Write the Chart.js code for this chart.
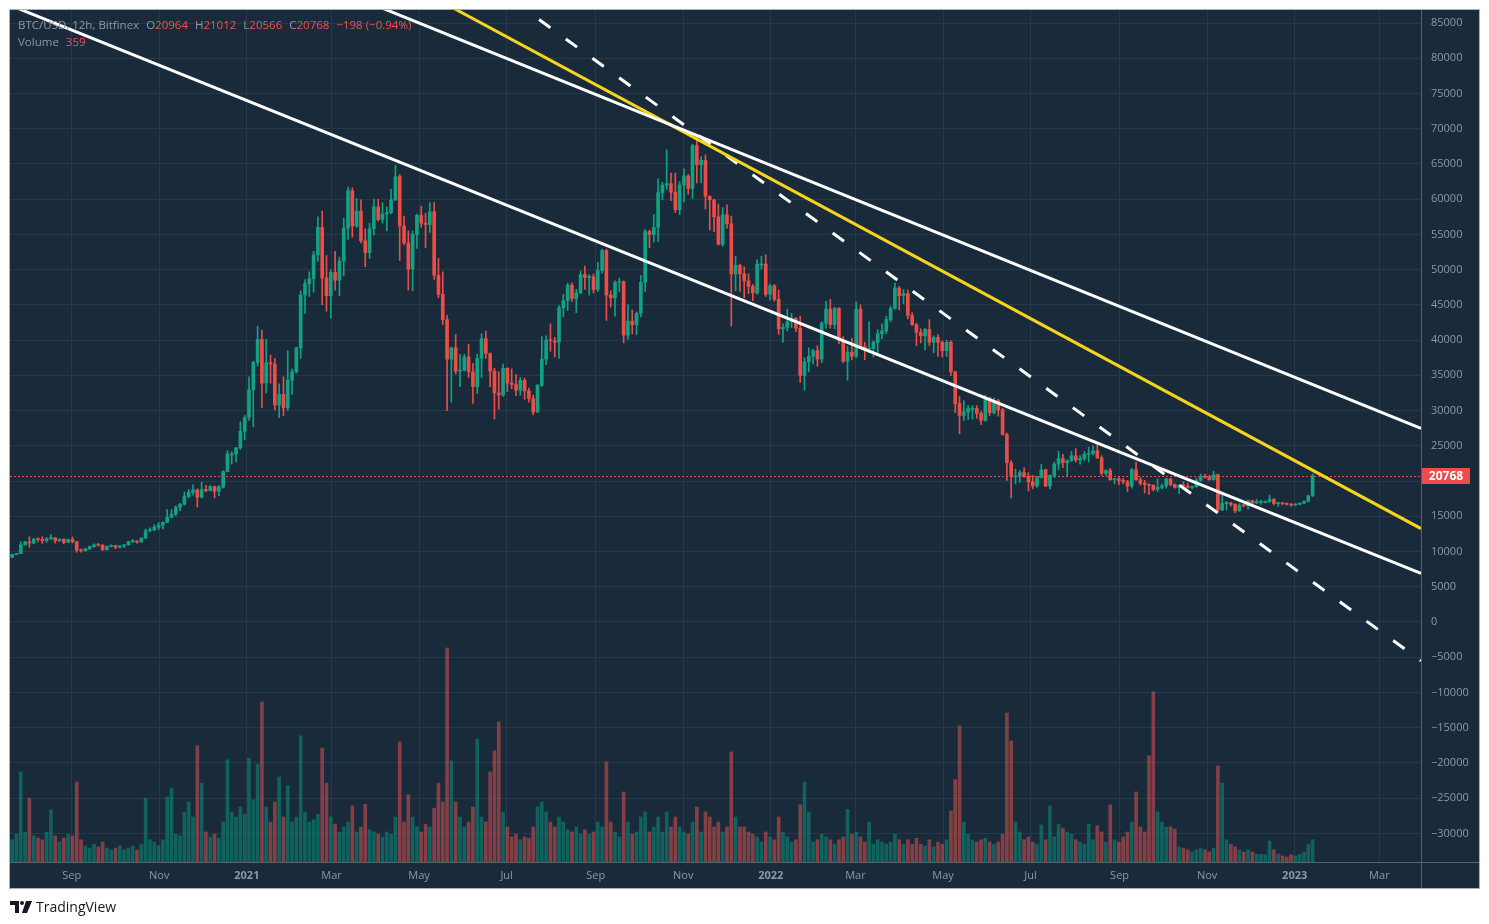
<!DOCTYPE html>
<html>
<head>
<meta charset="utf-8">
<title>BTC/USD 12h Bitfinex</title>
<script src="https://cdn.jsdelivr.net/npm/chart.js@4.4.1/dist/chart.umd.min.js"></script>
<style>
  html, body { margin: 0; padding: 0; background: #ffffff; }
  #wrap { position: relative; width: 1489px; height: 924px; overflow: hidden; }
  #btcChart { position: absolute; left: 0; top: 0; }
  .legend { position: absolute; left: 18px; font: 11.5px "Open Sans", sans-serif; color: #8d98a5; white-space: nowrap; line-height: 16px; }
  .legend .v { color: #ef5350; }
  .legend .gap { margin-left: 7px; }
  #logo { position: absolute; left: 10px; top: 897px; font: 14px "Open Sans", sans-serif; color: #131722; display: flex; align-items: center; }
  #logo svg { margin-right: 4px; }
</style>
</head>
<body>
<div id="wrap">
  <canvas id="btcChart" width="1489" height="924"></canvas>
  <div class="legend" id="legend1" style="top:17px"></div>
  <div class="legend" id="legend2" style="top:34px"></div>
  <div id="logo">
    <svg width="22" height="12" viewBox="0 0 22 12"><path d="M0 0h9v12H5V4H0z" fill="#131722"/><circle cx="12" cy="2" r="2" fill="#131722"/><path d="M16 0h6l-5 12h-5z" fill="#131722"/></svg>
    <span>TradingView</span>
  </div>
</div>
<script>
// Bougies de 3 jours à partir du 20/07/2020, prix en milliers de USD
const startDate = '2020-07-20';
const stepDays = 3;

const openK = [
  9.2, 9.6, 9.7, 10.95, 11.35, 11.2, 11.75, 11.7, 11.55, 11.85,
  11.95, 11.55, 11.75, 11.3, 11.7, 11.4, 10.2, 10.1, 10.4, 10.7,
  10.95, 10.9, 10.25, 10.7, 10.85, 10.6, 10.8, 10.95, 11.4, 11.45,
  11.35, 11.9, 12.95, 13.05, 13.45, 13.75, 14.15, 14.85, 15.3, 16.3,
  16.7, 17.8, 18.4, 18.75, 17.7, 18.8, 18.65, 19.2, 18.55, 19.15,
  21.35, 23.85, 23.85, 24.7, 27.05, 29.0, 32.95, 36.8, 40.1, 33.9,
  36.8, 36.6, 30.8, 32.3, 30.4, 34.3, 35.5, 38.9, 46.4, 48.0,
  48.7, 52.1, 56.0, 48.8, 46.3, 49.6, 48.5, 51.2, 55.9, 61.2,
  56.2, 58.3, 54.1, 52.4, 55.8, 58.9, 57.1, 57.9, 58.1, 59.9,
  63.2, 56.2, 53.8, 50.1, 55.0, 57.7, 56.6, 56.4, 58.2, 49.2,
  46.5, 42.9, 37.3, 38.9, 35.6, 35.7, 37.6, 35.5, 33.4, 37.4,
  40.2, 38.1, 35.6, 32.5, 32.2, 36.0, 33.9, 33.7, 32.9, 34.3,
  32.8, 31.7, 29.8, 33.6, 37.3, 40.0, 39.9, 39.7, 44.6, 45.6,
  47.8, 45.9, 46.7, 49.3, 48.9, 49.0, 47.2, 49.9, 52.7, 46.4,
  46.0, 48.2, 48.3, 40.7, 42.7, 42.2, 43.8, 48.2, 55.4, 55.0,
  56.0, 60.9, 62.0, 62.2, 61.0, 58.5, 62.0, 63.3, 61.5, 67.6,
  64.9, 65.5, 60.4, 59.9, 57.5, 53.6, 57.8, 56.5, 49.4, 50.6,
  49.4, 48.4, 47.6, 46.7, 50.8, 50.8, 46.5, 47.7, 45.8, 41.6,
  41.8, 42.6, 43.1, 41.7, 35.0, 36.9, 37.7, 38.5, 37.3, 42.4,
  44.4, 42.2, 44.5, 40.0, 37.0, 38.3, 37.7, 44.4, 39.1, 38.7,
  38.8, 39.7, 40.9, 41.3, 42.9, 44.5, 47.4, 46.3, 46.6, 43.5,
  42.2, 41.1, 40.6, 41.5, 39.7, 40.4, 39.7, 38.5, 39.7, 35.5,
  31.0, 29.3, 29.8, 30.3, 30.3, 29.6, 28.6, 31.8, 29.7, 31.4,
  30.1, 26.6, 22.6, 20.6, 20.7, 21.2, 20.7, 19.9, 19.3, 20.5,
  21.6, 19.3, 20.8, 22.4, 23.2, 22.6, 22.9, 23.6, 23.0, 23.2,
  23.8, 23.9, 24.3, 23.3, 21.1, 21.5, 20.2, 20.3, 20.1, 19.9,
  19.3, 21.6, 20.2, 19.7, 19.5, 19.4, 18.8, 19.1, 19.3, 20.3,
  19.5, 19.1, 19.4, 19.3, 19.1, 19.2, 20.1, 20.6, 20.5, 20.2,
  20.9, 15.9, 16.8, 16.9, 16.7, 15.8, 16.6, 16.5, 17.2, 16.9,
  17.1, 17.1, 17.1, 17.4, 16.8, 16.9, 16.8, 16.7, 16.6, 16.7,
  16.85, 17.1, 17.9
];
const highK = [
  9.65, 9.75, 11.4, 11.45, 12.1, 11.9, 11.95, 12.1, 11.95, 12.45,
  12.0, 11.8, 11.8, 11.75, 12.05, 11.45, 10.4, 10.45, 10.8, 11.1,
  11.15, 11.0, 10.8, 10.95, 10.9, 10.85, 11.0, 11.45, 11.7, 11.55,
  12.0, 13.2, 13.35, 13.8, 14.1, 14.2, 15.95, 15.95, 16.5, 16.85,
  18.45, 18.8, 19.45, 18.9, 19.85, 19.4, 19.4, 19.3, 19.4, 21.5,
  24.3, 24.15, 24.8, 28.4, 29.3, 34.8, 37.0, 42.0, 41.4, 40.1,
  37.9, 37.4, 33.8, 34.8, 38.5, 35.9, 39.0, 47.0, 48.6, 49.7,
  52.6, 57.5, 58.3, 52.0, 50.0, 52.6, 51.8, 57.3, 61.7, 61.6,
  60.1, 59.9, 55.8, 56.6, 60.0, 60.0, 59.5, 58.9, 61.4, 64.8,
  63.5, 57.6, 55.5, 55.5, 57.9, 59.0, 58.0, 59.5, 59.5, 51.6,
  49.7, 43.5, 39.0, 40.8, 38.0, 38.0, 39.4, 36.7, 38.0, 40.9,
  41.3, 38.2, 36.0, 35.5, 36.6, 36.1, 35.9, 35.1, 34.7, 34.6,
  33.2, 32.2, 33.7, 40.5, 40.6, 42.3, 40.4, 44.9, 46.5, 48.1,
  48.1, 47.2, 49.8, 50.5, 49.3, 49.4, 51.0, 52.9, 52.9, 47.0,
  48.4, 48.8, 48.4, 45.0, 44.3, 44.0, 49.2, 55.7, 55.6, 57.8,
  62.9, 62.4, 67.0, 63.7, 63.7, 62.5, 64.3, 63.5, 67.8, 69.0,
  66.0, 66.3, 60.5, 60.0, 59.3, 58.8, 59.2, 57.6, 51.9, 50.8,
  50.4, 49.4, 47.9, 51.4, 51.9, 52.1, 48.0, 47.9, 47.1, 42.3,
  44.4, 43.8, 43.2, 43.4, 37.5, 38.9, 38.7, 39.2, 42.6, 45.5,
  45.8, 44.7, 44.6, 40.5, 39.1, 40.3, 45.4, 45.0, 39.7, 42.6,
  39.9, 41.5, 42.3, 43.4, 44.8, 48.1, 47.6, 47.2, 47.1, 43.9,
  42.4, 41.6, 41.7, 42.9, 40.6, 40.8, 39.9, 40.0, 39.9, 35.6,
  32.0, 31.4, 30.7, 30.7, 30.7, 29.9, 32.2, 31.9, 31.8, 31.6,
  30.3, 26.8, 22.9, 21.7, 21.5, 21.9, 21.2, 20.8, 20.7, 22.4,
  21.7, 20.9, 22.7, 24.2, 23.8, 23.0, 24.2, 24.6, 23.6, 24.2,
  24.8, 25.0, 25.2, 23.6, 21.6, 21.8, 20.4, 20.6, 20.4, 20.1,
  21.8, 22.7, 20.5, 20.1, 19.6, 19.5, 20.3, 19.6, 20.4, 20.4,
  19.6, 19.5, 19.9, 19.7, 19.3, 20.4, 21.0, 21.0, 20.8, 21.4,
  21.0, 18.1, 17.1, 17.0, 16.8, 16.8, 16.7, 17.3, 17.3, 17.4,
  17.3, 17.2, 18.0, 17.5, 17.0, 16.95, 16.9, 16.8, 16.8, 16.95,
  17.2, 18.0, 21.012
];
const lowK = [
  9.1, 9.5, 9.7, 10.9, 10.6, 11.1, 11.35, 11.15, 11.3, 11.7,
  11.2, 11.4, 11.1, 11.25, 11.2, 9.9, 9.9, 10.05, 10.25, 10.6,
  10.75, 10.15, 10.2, 10.65, 10.4, 10.5, 10.55, 10.9, 11.3, 11.2,
  11.3, 11.85, 12.8, 12.95, 13.1, 13.2, 14.1, 14.8, 15.1, 15.8,
  16.6, 17.6, 18.0, 16.3, 17.6, 18.5, 18.6, 17.6, 17.9, 19.0,
  21.3, 22.4, 22.7, 24.5, 25.9, 28.6, 27.7, 36.3, 30.4, 32.5,
  33.9, 30.1, 29.0, 29.3, 30.0, 32.3, 35.3, 37.4, 43.8, 46.2,
  46.8, 51.2, 45.0, 44.1, 43.1, 47.1, 46.3, 49.1, 54.3, 54.6,
  56.0, 53.8, 50.4, 51.6, 54.9, 56.9, 56.6, 55.5, 57.9, 59.8,
  51.3, 53.5, 47.1, 47.0, 53.0, 56.0, 53.1, 55.3, 48.6, 46.0,
  42.2, 30.0, 31.2, 35.2, 33.4, 35.6, 34.7, 31.0, 32.4, 34.7,
  37.4, 33.4, 28.8, 30.2, 32.0, 32.7, 33.1, 32.1, 32.2, 31.6,
  31.2, 29.4, 29.7, 33.4, 36.5, 38.4, 37.6, 37.4, 43.3, 44.2,
  45.5, 43.9, 46.6, 47.2, 46.4, 46.7, 46.9, 49.5, 42.8, 44.7,
  43.4, 46.9, 39.6, 40.1, 40.9, 40.8, 43.3, 46.9, 53.1, 53.9,
  54.0, 59.9, 61.4, 59.8, 58.1, 57.8, 59.6, 60.7, 60.1, 62.3,
  62.3, 58.6, 55.6, 55.4, 53.5, 53.3, 55.9, 42.0, 47.0, 46.9,
  46.0, 46.6, 45.6, 46.5, 50.1, 46.2, 45.7, 45.5, 40.8, 39.7,
  41.3, 41.8, 41.2, 34.0, 32.9, 35.5, 36.6, 36.3, 36.8, 41.7,
  41.7, 41.6, 39.5, 36.8, 34.3, 37.2, 37.5, 38.8, 37.2, 38.3,
  37.6, 38.1, 40.2, 40.9, 42.6, 44.4, 44.3, 45.2, 43.0, 42.1,
  39.2, 39.6, 38.6, 39.2, 38.2, 37.7, 37.6, 37.7, 35.0, 29.7,
  26.7, 28.6, 28.7, 28.8, 28.9, 28.0, 28.5, 29.3, 29.5, 29.2,
  26.5, 20.1, 17.6, 19.6, 19.8, 20.5, 18.6, 18.9, 19.1, 20.4,
  19.2, 18.9, 20.5, 21.6, 21.9, 20.7, 22.8, 22.7, 22.4, 22.9,
  22.7, 23.7, 23.2, 20.8, 20.8, 20.1, 19.6, 19.5, 19.6, 18.5,
  19.0, 20.1, 19.4, 18.3, 18.1, 18.6, 18.5, 18.9, 19.0, 19.3,
  19.0, 18.2, 19.0, 19.0, 18.9, 19.1, 20.0, 20.4, 20.1, 20.1,
  15.6, 15.8, 15.9, 16.4, 15.5, 15.7, 16.3, 16.0, 16.8, 16.8,
  16.7, 16.9, 17.0, 16.6, 16.4, 16.6, 16.6, 16.4, 16.5, 16.6,
  16.8, 17.05, 17.8
];
const closeK = [
  9.6, 9.7, 10.95, 11.35, 11.2, 11.75, 11.7, 11.55, 11.85, 11.95,
  11.55, 11.75, 11.3, 11.7, 11.4, 10.2, 10.1, 10.4, 10.7, 10.95,
  10.9, 10.25, 10.7, 10.85, 10.6, 10.8, 10.95, 11.4, 11.45, 11.35,
  11.9, 12.95, 13.05, 13.45, 13.75, 14.15, 14.85, 15.3, 16.3, 16.7,
  17.8, 18.4, 18.75, 17.7, 18.8, 18.65, 19.2, 18.55, 19.15, 21.35,
  23.85, 23.85, 24.7, 27.05, 29.0, 32.95, 36.8, 40.1, 33.9, 36.8,
  36.6, 30.8, 32.3, 30.4, 34.3, 35.5, 38.9, 46.4, 48.0, 48.7,
  52.1, 56.0, 48.8, 46.3, 49.6, 48.5, 51.2, 55.9, 61.2, 56.2,
  58.3, 54.1, 52.4, 55.8, 58.9, 57.1, 57.9, 58.1, 59.9, 63.2,
  56.2, 53.8, 50.1, 55.0, 57.7, 56.6, 56.4, 58.2, 49.2, 46.5,
  42.9, 37.3, 38.9, 35.6, 35.7, 37.6, 35.5, 33.4, 37.4, 40.2,
  38.1, 35.6, 32.5, 32.2, 36.0, 33.9, 33.7, 32.9, 34.3, 32.8,
  31.7, 29.8, 33.6, 37.3, 40.0, 39.9, 39.7, 44.6, 45.6, 47.8,
  45.9, 46.7, 49.3, 48.9, 49.0, 47.2, 49.9, 52.7, 46.4, 46.0,
  48.2, 48.3, 40.7, 42.7, 42.2, 43.8, 48.2, 55.4, 55.0, 56.0,
  60.9, 62.0, 62.2, 61.0, 58.5, 62.0, 63.3, 61.5, 67.6, 64.9,
  65.5, 60.4, 59.9, 57.5, 53.6, 57.8, 56.5, 49.4, 50.6, 49.4,
  48.4, 47.6, 46.7, 50.8, 50.8, 46.5, 47.7, 45.8, 41.6, 41.8,
  42.6, 43.1, 41.7, 35.0, 36.9, 37.7, 38.5, 37.3, 42.4, 44.4,
  42.2, 44.5, 40.0, 37.0, 38.3, 37.7, 44.4, 39.1, 38.7, 38.8,
  39.7, 40.9, 41.3, 42.9, 44.5, 47.4, 46.3, 46.6, 43.5, 42.2,
  41.1, 40.6, 41.5, 39.7, 40.4, 39.7, 38.5, 39.7, 35.5, 31.0,
  29.3, 29.8, 30.3, 30.3, 29.6, 28.6, 31.8, 29.7, 31.4, 30.1,
  26.6, 22.6, 20.6, 20.7, 21.2, 20.7, 19.9, 19.3, 20.5, 21.6,
  19.3, 20.8, 22.4, 23.2, 22.6, 22.9, 23.6, 23.0, 23.2, 23.8,
  23.9, 24.3, 23.3, 21.1, 21.5, 20.2, 20.3, 20.1, 19.9, 19.3,
  21.6, 20.2, 19.7, 19.5, 19.4, 18.8, 19.1, 19.3, 20.3, 19.5,
  19.1, 19.4, 19.3, 19.1, 19.2, 20.1, 20.6, 20.5, 20.2, 20.9,
  15.9, 16.8, 16.9, 16.7, 15.8, 16.6, 16.5, 17.2, 16.9, 17.1,
  17.1, 17.1, 17.4, 16.8, 16.9, 16.8, 16.7, 16.6, 16.7, 16.85,
  17.1, 17.9, 20.768
];
// Volume (BTC) par bougie
const volumes = [
  400, 500, 1620, 540, 1150, 470, 430, 400, 540, 940, 470, 360, 430, 500, 470,
  1440, 400, 290, 250, 320, 270, 360, 250, 220, 250, 290, 220, 250, 290, 220, 320, 1150, 400, 360, 290,
  400, 1170, 1330, 500, 470, 900, 1080, 810, 2090, 1420, 540, 450, 500, 430, 720,
  1840, 900, 810, 990, 860, 1870, 1120, 1760, 2880, 990, 720, 1080, 1530, 810, 1370, 720, 810, 2270, 900, 720, 760, 860, 2050, 1420, 810,
  680, 540, 630, 720, 1010, 540, 630, 1040, 580, 540, 500, 450, 540, 500, 810, 2160, 720, 1210, 810, 630, 540, 680, 630, 970, 1420,
  1080, 3850, 1820, 1080, 810, 630, 720, 990, 2210, 810, 720, 1620, 2000, 2520,
  900, 630, 450, 500, 400, 450, 430, 630, 990, 1080, 900, 720, 630, 810, 720, 580, 540, 630, 500, 580,
  500, 540, 720, 630, 1800, 720, 540, 450, 1260, 720, 500, 540, 810, 900, 540, 630, 810, 540, 900, 630,
  810, 630, 540, 500, 720, 990, 540, 900, 810, 630, 720, 540, 630, 1980, 810, 630, 630, 540, 500, 450,
  360, 540, 450, 400, 810, 540, 450, 360, 400,
  1030, 1440, 900, 360, 400, 500, 450, 400, 320, 400, 450, 950, 500, 540, 450, 360, 720, 320, 400, 360,
  320, 360, 500, 400, 320, 400, 320, 430, 320, 290, 400, 270, 360, 320, 400, 920, 1480, 2450, 720, 500,
  400, 360, 400, 430, 360, 320, 360, 500,
  2680, 2180, 720, 540, 400, 450, 360, 320, 670, 400, 1010, 450, 680, 610, 540, 500, 400, 360, 320, 680,
  400, 650, 540, 360, 1030, 400, 360, 450, 540, 720, 1260, 630, 540, 1910, 3060, 900, 720, 630, 630, 590,
  270, 250, 220, 180, 220, 250, 220, 180, 250,
  1730, 1420, 400, 320, 270, 220, 180, 220, 180, 140, 140, 130, 380, 220, 140, 110, 90, 130, 110, 140,
  180, 320, 400
];

// Dernière bougie 12h affichée dans la légende
const lastOpen = 20964, lastHigh = 21012, lastLow = 20566, lastClose = 20768;
const lastChange = -198, lastChangePct = -0.94, lastVolume = 359;

// Lignes de tendance tracées à la main : [jour depuis startDate, prix]
const trendLower = [[0, 87530], [983, 6900]];
const trendUpper = [[250, 87880], [983, 27470]];
const trendYellow = [[300, 88090], [983, 13260]];
const trendDashed = [[350, 88250], [983, -5500]];

// Axe du temps (jours depuis startDate) et libellés
const monthTickDays = [43, 104, 165, 224, 285, 346, 408, 469, 530, 589, 650, 711, 773, 834, 895, 954];
const monthTickLabels = ['Sep', 'Nov', '2021', 'Mar', 'May', 'Jul', 'Sep', 'Nov', '2022', 'Mar', 'May', 'Jul', 'Sep', 'Nov', '2023', 'Mar'];
const xRange = [0, 983];
const priceRange = [-34057, 86845];
const priceTicks = [-30000, -25000, -20000, -15000, -10000, -5000, 0, 5000, 10000, 15000, 20000, 25000, 30000, 35000, 40000, 45000, 50000, 55000, 60000, 65000, 70000, 75000, 80000, 85000];
const volumeMax = 15330;

// Couleurs
const panelColor = '#192a3b';
const gridColor = '#27384a';
const textColor = '#8d98a5';
const upColor = '#12a282';
const downColor = '#eb4d47';
const upVolColor = 'rgba(8, 153, 129, 0.5)';
const downVolColor = 'rgba(239, 83, 80, 0.5)';
const lastPriceColor = '#ef4b4b';

const fmt = v => (v < 0 ? '\u2212' + Math.abs(v) : String(v));

document.getElementById('legend1').innerHTML =
  'BTC/USD, 12h, Bitfinex' +
  '<span class="gap">O</span><span class="v">' + lastOpen + '</span>' +
  '<span class="gap">H</span><span class="v">' + lastHigh + '</span>' +
  '<span class="gap">L</span><span class="v">' + lastLow + '</span>' +
  '<span class="gap">C</span><span class="v">' + lastClose + '</span>' +
  '<span class="gap v">' + fmt(lastChange) + ' (' + fmt(lastChangePct) + '%)</span>';
document.getElementById('legend2').innerHTML = 'Volume<span class="gap v">' + lastVolume + '</span>';

const candleX = openK.map((_, i) => i * stepDays + stepDays / 2);
const isUp = closeK.map((c, i) => c >= openK[i]);

const bodies = candleX.map((x, i) => ({ x: x, y: [openK[i] * 1000, closeK[i] * 1000] }));
const wicks = candleX.map((x, i) => ({ x: x, y: [lowK[i] * 1000, highK[i] * 1000] }));
const volumeBars = candleX.map((x, i) => ({ x: x, y: volumes[i] }));
const candleColors = isUp.map(u => (u ? upColor : downColor));
const volumeColors = isUp.map(u => (u ? upVolColor : downVolColor));

const toPoints = arr => arr.map(p => ({ x: p[0], y: p[1] }));
const trendLine = (points, color, dash) => ({
  type: 'line',
  data: toPoints(points),
  borderColor: color,
  borderWidth: 3,
  borderDash: dash || [],
  pointRadius: 0,
  tension: 0,
  clip: 0,
  order: 0,
});

// Cadre sombre, séparateurs d'axes, ligne pointillée et étiquette du dernier prix
const tvFrame = {
  id: 'tvFrame',
  beforeDraw(chart) {
    const { ctx, chartArea } = chart;
    const bottomAxis = chart.scales.x;
    ctx.save();
    ctx.fillStyle = '#ffffff';
    ctx.fillRect(0, 0, chart.width, chart.height);
    ctx.fillStyle = panelColor;
    ctx.fillRect(chartArea.left, chartArea.top, chart.width - 10 - chartArea.left, bottomAxis.bottom - chartArea.top);
    ctx.restore();
  },
  beforeDatasetsDraw(chart) {
    // ligne pointillée du dernier cours, alignée sur le pixel
    const { ctx, chartArea } = chart;
    const y = Math.round(chart.scales.y.getPixelForValue(lastClose)) + 0.5;
    ctx.save();
    ctx.strokeStyle = lastPriceColor;
    ctx.lineWidth = 1;
    ctx.setLineDash([2, 2]);
    ctx.beginPath();
    ctx.moveTo(chartArea.left, y);
    ctx.lineTo(chartArea.right, y);
    ctx.stroke();
    ctx.restore();
  },
  afterDraw(chart) {
    const { ctx, chartArea } = chart;
    const bottomAxis = chart.scales.x;
    const right = chart.width - 10;
    ctx.save();
    ctx.strokeStyle = '#56636f';
    ctx.lineWidth = 1;
    ctx.beginPath();
    ctx.moveTo(chartArea.right + 0.5, chartArea.top);
    ctx.lineTo(chartArea.right + 0.5, bottomAxis.bottom);
    ctx.moveTo(chartArea.left, chartArea.bottom + 0.5);
    ctx.lineTo(right, chartArea.bottom + 0.5);
    ctx.stroke();
    ctx.strokeStyle = '#a9b0b8';
    ctx.strokeRect(chartArea.left - 0.5, chartArea.top - 0.5, right - chartArea.left + 1, bottomAxis.bottom - chartArea.top + 1);

    const y = chart.scales.y.getPixelForValue(lastClose);
    ctx.fillStyle = lastPriceColor;
    ctx.fillRect(chartArea.right + 1, Math.round(y) - 8, 48, 16);
    ctx.fillStyle = '#ffffff';
    ctx.font = 'bold 12px "Open Sans", sans-serif';
    ctx.textAlign = 'center';
    ctx.textBaseline = 'middle';
    ctx.fillText(String(lastClose), chartArea.right + 25, Math.round(y) + 0.5);
    ctx.restore();
  }
};

new Chart(document.getElementById('btcChart'), {
  type: 'bar',
  data: {
    datasets: [
      trendLine(trendLower, '#ffffff'),
      trendLine(trendUpper, '#ffffff'),
      trendLine(trendYellow, '#f6d41e'),
      trendLine(trendDashed, '#ffffff', [14, 19]),
      {
        data: bodies,
        backgroundColor: candleColors,
        barThickness: 3,
        minBarLength: 1,
        grouped: false,
        order: 2,
      },
      {
        data: wicks,
        backgroundColor: candleColors,
        barThickness: 1,
        grouped: false,
        order: 3,
      },
      {
        data: volumeBars,
        yAxisID: 'yv',
        backgroundColor: volumeColors,
        barThickness: 3,
        grouped: false,
        order: 4,
      },
    ],
  },
  options: {
    responsive: false,
    animation: false,
    devicePixelRatio: 1,
    layout: { padding: { left: 10, top: 10, right: 10, bottom: 36 } },
    plugins: { legend: { display: false }, tooltip: { enabled: false } },
    scales: {
      x: {
        type: 'linear',
        min: xRange[0],
        max: xRange[1],
        offset: false,
        grid: { color: gridColor, drawTicks: false, offset: false },
        border: { display: false },
        afterBuildTicks: scale => { scale.ticks = monthTickDays.map(v => ({ value: v })); },
        afterFit: scale => { scale.height = 26; scale.paddingLeft = 0; scale.paddingRight = 0; },
        ticks: {
          autoSkip: false,
          maxRotation: 0,
          padding: 7,
          color: textColor,
          font: ctx => ({ family: '"Open Sans", sans-serif', size: 11, weight: /^\d/.test(monthTickLabels[ctx.index] || '') ? 'bold' : 'normal' }),
          callback: (value, index) => monthTickLabels[index],
        },
      },
      y: {
        position: 'right',
        min: priceRange[0],
        max: priceRange[1],
        grid: { color: gridColor, drawTicks: false },
        border: { display: false },
        afterBuildTicks: scale => { scale.ticks = priceTicks.map(v => ({ value: v })); },
        afterFit: scale => { scale.width = 58; scale.paddingTop = 0; scale.paddingBottom = 0; },
        ticks: {
          padding: 10,
          color: textColor,
          font: { family: '"Open Sans", sans-serif', size: 11 },
          callback: value => fmt(value),
        },
      },
      yv: {
        display: false,
        min: 0,
        max: volumeMax,
      },
    },
  },
  plugins: [tvFrame],
});
</script>
</body>
</html>
